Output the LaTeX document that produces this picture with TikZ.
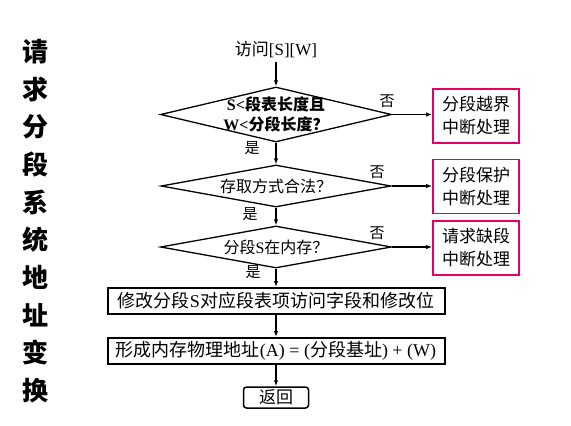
\documentclass[tikz,border=0pt]{standalone}
\usepackage{fontspec}
\setmainfont{Noto Sans CJK SC}
\newfontfamily\lat{Liberation Serif}
\usetikzlibrary{shapes.geometric,arrows.meta,positioning}

\definecolor{alarm}{RGB}{230,0,100}

\tikzset{
  decision/.style={shape=diamond,draw=black,line width=1.3pt,inner sep=0pt},
  task/.style={draw=black,line width=2pt,minimum width=337pt,minimum height=26pt,inner sep=0pt,font=\fontsize{18}{20}\selectfont},
  handler/.style={draw=alarm,line width=1.8pt,minimum width=86pt,minimum height=54pt,inner sep=0pt,align=center,font=\fontsize{17}{23}\selectfont},
  flow/.style={-{Latex[length=6pt,width=4.5pt]},line width=1.2pt},
  tag/.style={font=\fontsize{15}{16}\selectfont}
}

\begin{document}
\begin{tikzpicture}[x=1pt,y=-1pt]
  \useasboundingbox (0,0) rectangle (571,426);

  % vertical title
  \foreach [count=\n] \c in {请,求,分,段,系,统,地,址,变,换} {
    \node[font=\fontsize{26}{28}\selectfont\bfseries] (t\n) at (35,{52+37.6*(\n-1)}) {\c};
  };

  \node[font=\fontsize{17}{20}\selectfont] (start) at (276,50) {访问{\lat [S][W]}};

  % decisions
  \node[decision,minimum width=231pt,minimum height=55pt,
    label={[align=center,font=\fontsize{16}{20}\selectfont\bfseries]center:{{\lat S<}段表长度且\\{\lat W<}分段长度？}}] (d1) at (276,114.5) {};
  \node[decision,minimum width=230pt,minimum height=42pt,
    label={[font=\fontsize{16}{20}\selectfont]center:{存取方式合法？}}] (d2) at (276,186) {};
  \node[decision,minimum width=231pt,minimum height=42pt,
    label={[font=\fontsize{16}{20}\selectfont]center:{分段{\lat S}在内存？}}] (d3) at (276,247) {};

  % interrupt handlers
  \foreach [count=\n] \y/\t in {116/分段越界,186.5/分段保护,248/请求缺段} {
    \node[handler] (h\n) at (476,\y) {\t\\中断处理};
  };

  \node[task] (m) at (276,301) {修改分段{\lat S}对应段表项访问字段和修改位};
  \node[task] (f) at (276,351) {形成内存物理地址{\lat (A) = (}分段基址{\lat ) + (W)}};
  \node[draw=black,line width=1.5pt,rounded corners=3pt,minimum width=65pt,minimum height=21pt,inner sep=0pt,font=\fontsize{17}{20}\selectfont] (r) at (276,397.5) {返回};

  % yes / no marks
  \node[tag] (no1) at (387,101) {否};
  \node[tag] (no2) at (377,172) {否};
  \node[tag] (no3) at (377,233) {否};
  \node[tag] (yes1) at (252,148) {是};
  \node[tag] (yes2) at (250,214) {是};
  \node[tag] (yes3) at (253,272) {是};

  % connectors
  \draw[flow] (start.south) -- (d1.north);
  \draw[flow] (d1.south) -- (d2.north);
  \draw[flow] (d2.south) -- (d3.north);
  \draw[flow] (d3.south) -- (m.north);
  \draw[flow] (m.south) -- (f.north);
  \draw[flow] (f.south) -- (r.north);
  \foreach \n in {1,2,3} {
    \draw[flow] (d\n.east) -- (d\n.east -| h\n.west);
  };

\end{tikzpicture}
\end{document}
